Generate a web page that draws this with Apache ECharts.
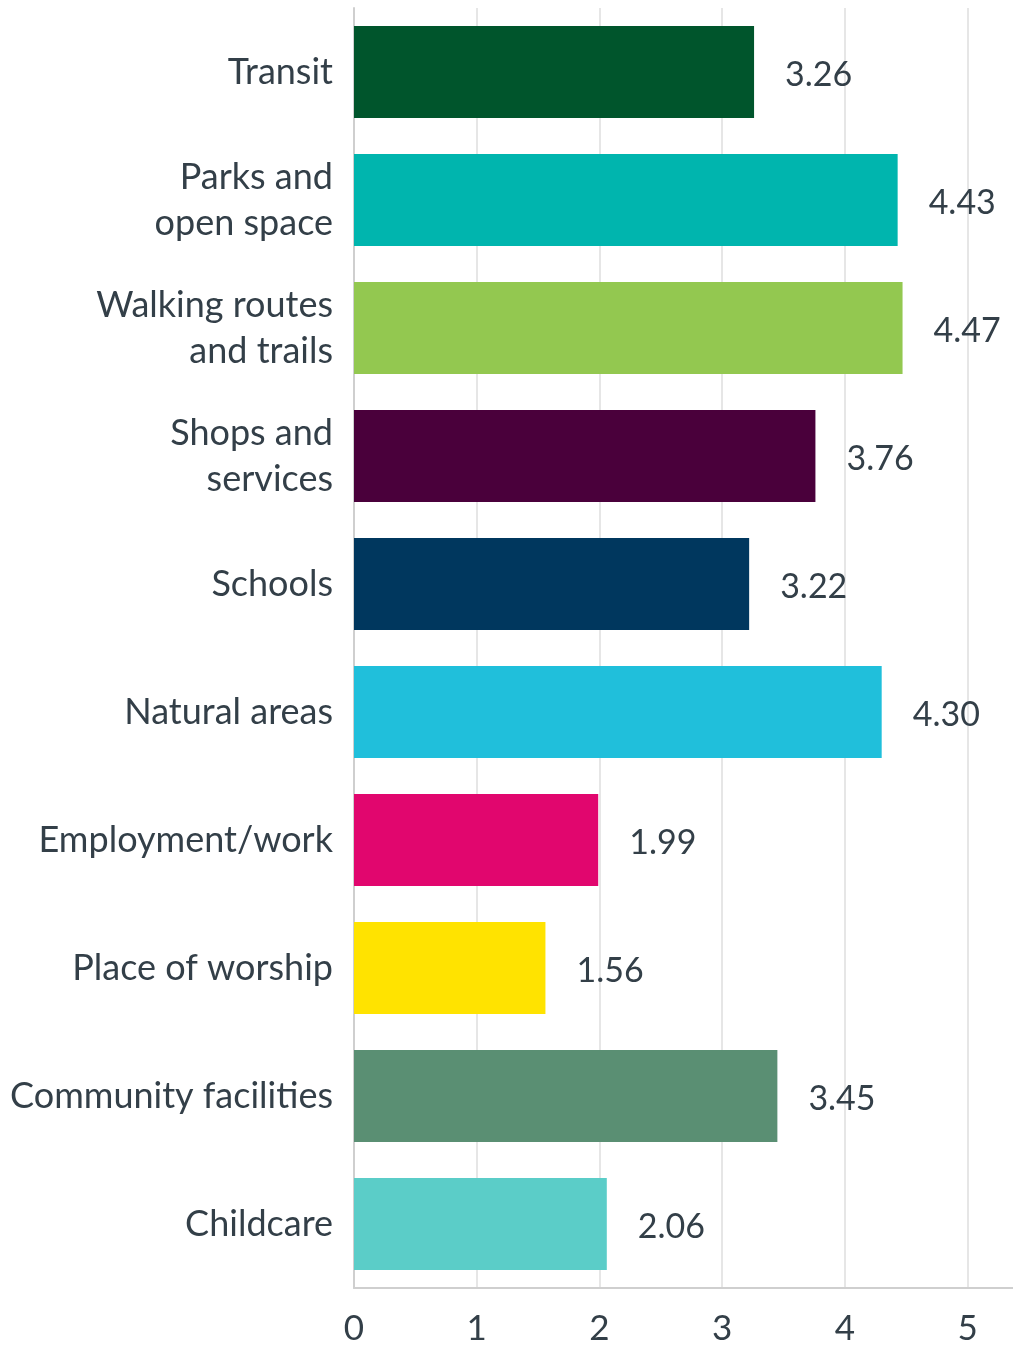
<!DOCTYPE html>
<html>
<head>
<meta charset="utf-8">
<script src="https://cdn.jsdelivr.net/npm/echarts@6/dist/echarts.min.js"></script>
<style>
html,body{margin:0;padding:0;background:#fff;}
#chart{width:1013px;height:1346px;}
</style>
</head>
<body>
<div id="chart"></div>
<script>
const categories = ["Transit","Parks and\nopen space","Walking routes\nand trails","Shops and\nservices","Schools","Natural areas","Employment/work","Place of worship","Community facilities","Childcare"];
const values = [3.26, 4.43, 4.47, 3.76, 3.22, 4.30, 1.99, 1.56, 3.45, 2.06];
const barColors = ["#00552C","#00B5AE","#93C850","#4A003B","#00375E","#20BFDB","#E1066E","#FFE300","#5A8F73","#5BCDC8"];
const xTicks = [0,1,2,3,4,5];

const textColor = "#333f48";
const font = "Lato";
const chart = echarts.init(document.getElementById('chart'));
chart.setOption({
  backgroundColor: "#ffffff",
  animation: false,
  grid: {left: 354, right: 0, top: 8, bottom: 52, containLabel: false},
  xAxis: {
    type: 'value', min: 0, max: 5.37, interval: 1,
    axisLine: {show: true, lineStyle: {color: '#cfcfcf', width: 2}},
    axisTick: {show: false},
    splitLine: {show: true, showMaxLine: false, lineStyle: {color: '#e6e6e6', width: 2}},
    axisLabel: {
      color: textColor, fontFamily: font, fontSize: 35, margin: 23, showMaxLabel: false,
      formatter: function (v) { return xTicks.indexOf(v) >= 0 ? String(v) : ''; }
    }
  },
  yAxis: {
    type: 'category', data: categories, inverse: true,
    axisLine: {show: true, lineStyle: {color: '#cfcfcf', width: 2}},
    axisTick: {show: false},
    axisLabel: {color: textColor, fontFamily: font, fontSize: 36, margin: 21, lineHeight: 46, align: 'right'}
  },
  series: [{
    type: 'bar',
    data: values.map((v, i) => ({value: v, itemStyle: {color: barColors[i]}})),
    barCategoryGap: '28%',
    label: {
      show: true, position: 'right', distance: 31, offset: [0, 3],
      color: textColor, fontFamily: font, fontSize: 34,
      formatter: p => p.value.toFixed(2)
    }
  }]
});
</script>
</body>
</html>
